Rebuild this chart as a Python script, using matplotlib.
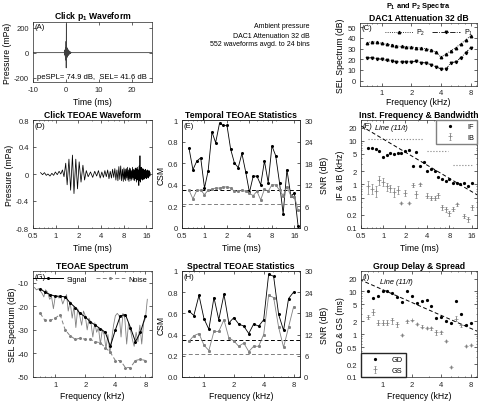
import numpy as np
import matplotlib
matplotlib.use('Agg')
import matplotlib.pyplot as plt
from matplotlib.ticker import NullFormatter

plt.rcParams['font.family'] = ['Liberation Sans', 'DejaVu Sans']
plt.rcParams['mathtext.fontset'] = 'custom'
plt.rcParams['mathtext.rm'] = 'Liberation Sans'
plt.rcParams['mathtext.it'] = 'Liberation Sans:italic'
plt.rcParams['mathtext.bf'] = 'Liberation Sans:bold'
plt.rcParams['axes.unicode_minus'] = False
plt.rcParams['font.size'] = 5.5
plt.rcParams['axes.linewidth'] = 0.5
plt.rcParams['axes.edgecolor'] = '#262626'
for a in ['xtick', 'ytick']:
    plt.rcParams[a + '.direction'] = 'in'
    plt.rcParams[a + '.major.size'] = 2
    plt.rcParams[a + '.minor.size'] = 1
    plt.rcParams[a + '.major.width'] = 0.5
    plt.rcParams[a + '.minor.width'] = 0.4
    plt.rcParams[a + '.color'] = '#262626'
    plt.rcParams[a + '.labelsize'] = 5.5
plt.rcParams['xtick.major.pad'] = 3.2
plt.rcParams['ytick.major.pad'] = 3

GREY = '#808080'

# ---- (A) click waveform ----
click_t = [-10, -0.6, -0.5, -0.45, -0.4, -0.35, -0.3, -0.25, -0.2, -0.15, -0.1, -0.05, 0.0, 0.05, 0.1,
           0.15, 0.2, 0.25, 0.3, 0.35, 0.4, 0.45, 0.5, 0.55, 0.6, 0.65, 0.7, 0.8, 0.9, 1.0, 1.1, 1.2,
           1.3, 1.4, 1.6, 1.8, 26]
click_p = [0, 0, 8, -10, 14, -18, 22, -28, 30, -36, 40, -60, 90, -122, 230, -80, 45, -40, 35, -32,
           30, -28, 26, -24, 22, -20, 18, -16, 14, -12, 10, -8, 6, -4, 2, 0, 0]

# ---- (C) P1 / P2 spectra and common frequency bins ----
freq = [0.71, 0.79, 0.89, 1.0, 1.12, 1.26, 1.41, 1.59, 1.78, 2.0, 2.24, 2.52, 2.83, 3.17, 3.56,
        4.0, 4.49, 5.04, 5.66, 6.35, 7.13, 8.0]
p2_sel = [35.5, 36.5, 36, 35, 34, 33.5, 32.5, 32, 31.5, 31.5, 31, 30.5, 30, 28.8, 26.7, 22, 25,
          28, 31, 34.5, 38, 42]
p1_sel = [21, 21.5, 20.5, 20, 19, 18, 17.5, 17.5, 17.5, 17.5, 18, 17, 16.5, 15, 13, 11, 10.5, 17,
          17.5, 21.5, 26, 31]

# ---- (D) TEOAE waveform (extrema, ms / mPa) ----
teoae_t = [0.63, 0.67, 0.71, 0.75, 0.79, 0.84, 0.89, 0.94, 0.99, 1.05, 1.11, 1.17, 1.23, 1.29,
           1.36, 1.42, 1.5, 1.58, 1.67, 1.75, 1.85, 1.95, 2.05, 2.17, 2.3, 2.42, 2.55,
           2.7, 2.9, 3.1, 3.3, 3.5, 3.7, 3.9, 4.1, 4.3, 4.5, 4.7, 4.9, 5.1, 5.3, 5.5, 5.7, 5.9,
           6.1, 6.3, 6.5, 6.7, 6.9, 7.1, 7.3, 7.5, 7.7, 7.9,
           8.05, 8.2, 8.35, 8.5, 8.65, 8.8, 8.95, 9.1, 9.25, 9.4, 9.55, 9.7, 9.85, 10.0, 10.15,
           10.3, 10.45, 10.6, 10.75, 10.9, 11.05, 11.2, 11.35, 11.5, 11.65, 11.8, 11.95, 12.1,
           12.25, 12.4, 12.55, 12.7, 12.85, 13.0, 13.15, 13.3, 13.45, 13.6, 13.75, 13.9, 14.05,
           14.2, 14.35, 14.5, 14.65, 14.8, 14.95, 15.1, 15.25, 15.4, 15.55, 15.7, 15.85, 16.0,
           16.15, 16.3, 16.45, 16.6, 16.75, 16.9, 17.05, 17.2, 17.35, 17.5, 17.65, 17.8, 17.95]
teoae_p = [0.02, -0.01, 0.02, -0.02, 0.0, -0.03, 0.01, -0.02, 0.03, -0.01, 0.04, 0.0, 0.06, -0.04,
           0.16, -0.16, 0.22, -0.24, 0.28, -0.29, 0.22, -0.22, 0.18, -0.12, 0.13, -0.09, 0.05,
           -0.04, 0.03, -0.05, 0.04, -0.03, 0.05, -0.06, 0.03, -0.05, 0.05, -0.04, 0.06, -0.07,
           0.04, -0.06, 0.07, -0.05, 0.08, -0.09, 0.06, -0.1, 0.11, -0.08, 0.12, -0.1, 0.07, -0.11,
           0.09, -0.08, 0.07, -0.1, 0.08, -0.06, 0.1, -0.09, 0.06, -0.11,
           0.09, -0.07, 0.08, -0.1, 0.05, -0.08, 0.1, -0.06, 0.07, -0.09,
           0.06, -0.1, 0.08, -0.07, 0.09, -0.12, 0.07, -0.09, 0.1, -0.08,
           0.06, -0.17, 0.12, -0.1, 0.27, -0.12, 0.09, -0.08, 0.1, -0.07,
           0.06, -0.09, 0.08, -0.06, 0.07, -0.08, 0.05, -0.07, 0.06, -0.05,
           0.07, -0.06, 0.05, -0.07, 0.04, -0.05, 0.06, -0.04, 0.05, -0.06,
           0.03, -0.04, 0.05, -0.03, 0.04, -0.03, 0.02]

# ---- (E) temporal statistics, (F) inst. frequency & bandwidth ----
time_bins = [0.62, 0.70, 0.79, 0.89, 1.0, 1.12, 1.26, 1.41, 1.59, 1.78, 2.0, 2.24, 2.52, 2.83, 3.17,
             3.56, 4.0, 4.49, 5.04, 5.66, 6.35, 7.13, 8.0, 8.98, 10.1, 11.3, 12.7, 14.3, 16.0, 17.9]
csm_t = [0.74, 0.54, 0.62, 0.65, 0.37, 0.53, 0.89, 0.79, 0.97, 0.95, 0.95, 0.73, 0.60, 0.56, 0.69,
         0.52, 0.33, 0.48, 0.48, 0.40, 0.62, 0.42, 0.76, 0.67, 0.42, 0.13, 0.54, 0.30, 0.32, 0.02]
snr_t = [10.5, 8.1, 10.5, 10.5, 9.3, 10.5, 10.8, 11.1, 11.1, 11.4, 11.4, 11.1, 10.2, 10.2, 10.5,
         10.2, 9.6, 9.0, 10.2, 7.8, 10.8, 10.2, 12.0, 12.0, 10.5, 9.0, 11.4, 9.0, 8.7, 5.1]
csm_crit = 0.35
snr_crit = 6.6

if_t = time_bins[:29]
if_khz = [7.0, 6.9, 6.5, 5.8, 4.2, 4.8, 5.3, 4.9, 5.3, 5.3, 5.8, 6.3, 2.6, 5.4, 2.6, 3.3, 2.0, 2.2,
          2.0, 1.5, 1.35, 1.2, 1.3, 1.05, 1.05, 1.0, 1.05, 0.9, 1.05]
ib_khz = [0.9, 0.8, 0.72, 1.25, 1.15, 0.9, 0.82, 0.66, 0.75, 0.37, 0.64, 0.38, 0.95, 0.6, 1.0,
          np.nan, 0.55, 0.49, 0.49, 0.57, 0.3, 0.27, 0.22, 0.28, 0.35, np.nan, 0.19, 0.16, 0.3]
ib_err = [0.3, 0.2, 0.2, 0.3, 0.25, 0.18, 0.15, 0.15, 0.15, 0.02, 0.1, 0.02, 0.1, 0.12, 0.1,
          0, 0.07, 0.05, 0.05, 0.08, 0.04, 0.04, 0.03, 0.03, 0.03, 0, 0.02, 0.02, 0.04]
win_t0 = [0.63, 4.0, 9.0]
win_t1 = [3.5, 7.7, 16.0]
win_khz = [11.2, 5.8, 2.8]
line_t = [0.5, 20]
line_if = [22, 0.55]

# ---- (G) TEOAE spectrum ----
raw_f = [0.62, 0.65, 0.68, 0.71, 0.74, 0.77, 0.80, 0.84, 0.88, 0.92, 0.96, 1.00, 1.04, 1.09, 1.14,
         1.19, 1.24, 1.30, 1.35, 1.41, 1.48, 1.54, 1.61, 1.68, 1.76, 1.84, 1.92, 2.00, 2.09, 2.18,
         2.28, 2.38, 2.49, 2.60, 2.71, 2.83, 2.96, 3.09, 3.22, 3.37, 3.52, 3.67, 3.84, 4.00, 4.18,
         4.37, 4.56, 4.76, 4.97, 5.19, 5.42, 5.66, 5.91, 6.17, 6.45, 6.73, 7.03, 7.34, 7.67, 8.00,
         8.35]
raw_sel = [-12, -13, -12.5, -13.5, -14.5, -16, -13, -14, -17, -16, -21, -16, -15.5, -16.5, -16,
           -19, -17, -15, -22, -18, -25, -20, -29, -21, -24, -28, -22, -24, -30, -25,
           -27, -33, -27, -31, -29, -36, -30, -32, -38, -32, -40, -34, -28, -24, -23,
           -24, -33, -23, -25, -36, -27, -30, -34, -37, -31, -35, -28, -36, -27, -25,
           -17]
sig_sel = [-12.5, -14, -15, -15.7, -15.7, -16, -18.5, -20.5, -23, -24.5, -26.5, -28, -29.5, -31,
           -37, -30, -24, -23.5, -29, -35, -31, -24]
noise_sel = [-23, -26, -26, -25, -23.5, -30, -32.5, -34, -33.5, -34, -34, -35, -35.5, -37.5, -39.5,
             -43, -43, -46, -46, -43, -42.5, -43]

# ---- (H) spectral statistics ----
csm_f = [0.62, 0.58, 0.77, 0.55, 0.45, 0.75, 0.54, 0.78, 0.51, 0.56, 0.50, 0.48, 0.41, 0.50, 0.48,
         0.54, 0.97, 0.95, 0.59, 0.44, 0.74, 0.80]
snr_f = [10.2, 11.7, 12.3, 9.0, 7.5, 12.9, 12.9, 16.2, 11.1, 10.2, 8.7, 9.6, 7.2, 8.7, 8.7, 12.0,
         23.1, 22.5, 14.1, 8.4, 14.1, 19.8]

# ---- (I) group delay & spread ----
gd_ms = [10.5, 7.0, 8.0, 10.0, 10.5, 9.2, 7.4, 5.6, 10.5, 8.0, 5.4, 5.9, 6.2, 4.5, 2.4, 2.55, 2.0,
         1.85, 5.9, 2.9, 1.6, 1.8]
gs_ms = [2.55, 3.3, 1.85, 1.85, 1.85, 2.1, 1.7, 0.95, 2.0, 2.1, 1.7, 1.5, 1.4, 1.37, 1.13, 1.1,
         0.7, 0.17, 2.3, 1.6, 0.54, 0.57]
gs_err = [0.3, 0.5, 0.25, 0.25, 0.25, 0.35, 0.25, 0.05, 0.15, 0.1, 0.1, 0.1, 0.1, 0.1, 0.15, 0.1,
          0.05, 0.01, 0.3, 0.15, 0.03, 0.03]
line_f = [0.58, 9.3]
line_gd = [19, 1.18]

time_ticks = [0.5, 1, 2, 4, 8, 16]
freq_ticks = [1, 2, 4, 8]
log_ticks = [0.1, 0.2, 0.5, 1, 2, 5, 10, 20]

TITLE = dict(fontsize=6.2, fontweight='bold', pad=2.5)
LAB = 6.2
XPAD = 2.5


def frame(ax):
    ax.tick_params(which='both', top=True, right=True)


def panel_tag(ax, s):
    ax.text(0.015, 0.985, s, transform=ax.transAxes, ha='left', va='top', fontsize=5.5)


def time_axis(ax):
    ax.set_xscale('log')
    ax.set_xlim(0.5, 19)
    ax.set_xticks(time_ticks)
    ax.set_xticklabels(['0.5', '1', '2', '4', '8', '16'])
    ax.xaxis.set_minor_formatter(NullFormatter())
    ax.set_xlabel('Time (ms)', fontsize=LAB, labelpad=XPAD)


def freq_axis(ax):
    ax.set_xscale('log')
    ax.set_xlim(0.6, 9.3)
    ax.set_xticks(freq_ticks)
    ax.set_xticklabels(['1', '2', '4', '8'])
    ax.xaxis.set_minor_formatter(NullFormatter())
    ax.set_xlabel('Frequency (kHz)', fontsize=LAB, labelpad=1.5)


def log_y(ax):
    ax.set_yscale('log')
    ax.set_ylim(0.1, 30)
    ax.set_yticks(log_ticks)
    ax.set_yticklabels(['0.1', '0.2', '0.5', '1', '2', '5', '10', '20'])
    ax.yaxis.set_minor_formatter(NullFormatter())


fig = plt.figure(figsize=(4.8, 4.02), dpi=100)
W, H = 480.0, 402.0


def add(x0, y0, x1, y1):
    return fig.add_axes([x0 / W, 1 - y1 / H, (x1 - x0) / W, (y1 - y0) / H])


axA = add(33, 23, 152, 83)
axC = add(360, 24, 477, 87)
axD = add(33, 121, 152, 229)
axE = add(182, 121, 300, 229)
axF = add(361, 121, 477, 229)
axG = add(33, 272, 152, 378)
axH = add(182, 272, 300, 378)
axI = add(361, 272, 477, 378)

# (A)
axA.plot(click_t, click_p, color='#404040', lw=0.6)
axA.set_xlim(-10, 26)
axA.set_ylim(-235, 245)
axA.set_xticks([-10, 0, 10, 20])
axA.set_yticks([-200, 0, 200])
axA.set_xlabel('Time (ms)', fontsize=LAB, labelpad=XPAD)
axA.set_ylabel('Pressure (mPa)', fontsize=LAB, labelpad=1)
axA.set_title(r'Click $\mathbf{p_1}$ Waveform', **TITLE)
frame(axA)
panel_tag(axA, '(A)')
axA.text(0.03, 0.04, 'peSPL= 74.9 dB,  SEL= 41.6 dB', transform=axA.transAxes, fontsize=5.5,
         ha='left', va='bottom')

# header text
for yy, s in zip([27, 36, 44], ['Ambient pressure', 'DAC1 Attenuation 32 dB',
                                 '552 waveforms avgd. to 24 bins']):
    fig.text(310 / W, 1 - yy / H, s, ha='right', va='center', fontsize=5.0)

# (C)
axC.plot(freq, p2_sel, ls=':', marker='^', ms=1.8, color='k', lw=0.6, label='P$_2$')
axC.plot(freq, p1_sel, ls='-.', marker='v', ms=1.8, color='k', lw=0.6, label='P$_1$')
freq_axis(axC)
axC.set_xlabel('Frequency (kHz)', fontsize=LAB, labelpad=0.5)
axC.tick_params(axis='x', pad=2.5)
axC.set_ylim(-5, 54)
axC.set_yticks([0, 10, 20, 30, 40, 50])
axC.set_ylabel('SEL Spectrum (dB)', fontsize=LAB, labelpad=1.5)
frame(axC)
panel_tag(axC, '(C)')
axC.legend(loc='upper right', ncol=2, frameon=False, fontsize=5.0, handlelength=4,
           borderaxespad=0.2, columnspacing=1.0, handletextpad=0.5)
fig.text(418 / W, 1 - 6 / H, r'$\mathbf{P_1}$ and $\mathbf{P_2}$ Spectra', ha='center',
         va='center', fontsize=5.3, fontweight='bold')
axC.set_title('DAC1 Attenuation 32 dB', **TITLE)

# (D)
axD.plot(teoae_t, teoae_p, color='k', lw=0.55)
time_axis(axD)
axD.set_ylim(-0.8, 0.8)
axD.set_yticks([-0.8, -0.4, 0, 0.4, 0.8])
axD.set_yticklabels(['-0.8', '-0.4', '0', '0.4', '0.8'])
axD.set_ylabel('Pressure (mPa)', fontsize=LAB, labelpad=1)
axD.set_title('Click TEOAE Waveform', **TITLE)
frame(axD)
panel_tag(axD, '(D)')

# (E)
axE2 = axE.twinx()
axE.plot(time_bins, csm_t, color='k', lw=0.6, marker='o', ms=1.2, zorder=3)
axE2.plot(time_bins, snr_t, color=GREY, lw=0.6, marker='s', ms=1.1)
axE.axhline(csm_crit, color='k', lw=0.7, dashes=(4, 2.5))
axE2.axhline(snr_crit, color=GREY, lw=0.7, dashes=(4, 2.5))
time_axis(axE)
axE.set_ylim(0, 1)
axE.set_yticks([0, 0.2, 0.4, 0.6, 0.8, 1])
axE.set_yticklabels(['0', '0.2', '0.4', '0.6', '0.8', '1'])
axE2.set_ylim(0, 30)
axE2.set_yticks([0, 6, 12, 18, 24, 30])
axE.set_ylabel('CSM', fontsize=LAB, labelpad=1)
axE2.set_ylabel('SNR (dB)', fontsize=LAB, labelpad=5)
axE.tick_params(which='both', top=True)
axE2.tick_params(direction='in')
axE.set_title('Temporal TEOAE Statistics', **TITLE)
panel_tag(axE, '(E)')

# (F)
axF.plot(if_t, if_khz, ls='none', marker='o', ms=1.3, color='k', label='IF')
axF.errorbar(if_t, ib_khz, yerr=ib_err, fmt='+', ms=2.5, mew=0.5, color=GREY, ecolor=GREY,
             elinewidth=0.5, capsize=1.0, capthick=0.5, label='IB')
for a0, a1, yv in zip(win_t0, win_t1, win_khz):
    axF.plot([a0, a1], [yv, yv], ls=':', color=GREY, lw=0.8)
axF.plot(line_t, line_if, color='k', lw=0.7, dashes=(4, 2.5))
time_axis(axF)
log_y(axF)
axF.set_ylabel('IF & IB (kHz)', fontsize=LAB, labelpad=1)
frame(axF)
panel_tag(axF, '(F)')
axF.text(0.78, 20, 'Line (11/t)', style='italic', fontsize=5.3, va='center')
axF.legend(loc='upper right', fontsize=5.3, fancybox=False, edgecolor=GREY, framealpha=1,
           borderaxespad=0, handlelength=3, labelspacing=0.5, borderpad=0.4)
axF.set_title('Inst. Frequency & Bandwidth', **TITLE)

# (G)
axG.plot(raw_f, raw_sel, color=GREY, lw=0.6)
axG.plot(freq, sig_sel, color='k', lw=0.7, marker='o', ms=1.2, label='Signal')
axG.plot(freq, noise_sel, color=GREY, lw=0.7, marker='o', ms=1.2, dashes=(4, 2.5), label='Noise')
freq_axis(axG)
axG.set_ylim(-50, -5)
axG.set_yticks([-50, -40, -30, -20, -10])
axG.set_ylabel('SEL Spectrum (dB)', fontsize=LAB, labelpad=1)
frame(axG)
panel_tag(axG, '(G)')
axG.legend(loc='upper right', ncol=2, frameon=False, fontsize=5.3, handlelength=4,
           borderaxespad=0.2, columnspacing=1.2, handletextpad=0.5)
axG.set_title('TEOAE Spectrum', **TITLE)

# (H)
axH2 = axH.twinx()
axH.plot(freq, csm_f, color='k', lw=0.6, marker='o', ms=1.2, zorder=3)
axH2.plot(freq, snr_f, color=GREY, lw=0.6, marker='s', ms=1.1)
axH.axhline(csm_crit, color='k', lw=0.7, dashes=(4, 2.5))
axH2.axhline(snr_crit, color=GREY, lw=0.7, dashes=(4, 2.5))
freq_axis(axH)
axH.set_ylim(0, 1)
axH.set_yticks([0, 0.2, 0.4, 0.6, 0.8, 1])
axH.set_yticklabels(['0.0', '0.2', '0.4', '0.6', '0.8', '1'])
axH2.set_ylim(0, 30)
axH2.set_yticks([0, 6, 12, 18, 24, 30])
axH.set_ylabel('CSM', fontsize=LAB, labelpad=1)
axH2.set_ylabel('SNR (dB)', fontsize=LAB, labelpad=5)
axH.tick_params(which='both', top=True)
axH2.tick_params(direction='in')
axH.set_title('Spectral TEOAE Statistics', **TITLE)
panel_tag(axH, '(H)')

# (I)
axI.plot(freq, gd_ms, ls='none', marker='o', ms=1.3, color='k', label='GD')
axI.errorbar(freq, gs_ms, yerr=gs_err, fmt='+', ms=2.5, mew=0.5, color=GREY, ecolor=GREY,
             elinewidth=0.5, capsize=1.0, capthick=0.5, label='GS')
axI.plot(line_f, line_gd, color='k', lw=0.7, dashes=(4, 2.5))
freq_axis(axI)
log_y(axI)
axI.set_ylabel('GD & GS (ms)', fontsize=LAB, labelpad=1)
frame(axI)
panel_tag(axI, '(I)')
axI.text(0.93, 17, 'Line (11/f)', style='italic', fontsize=5.3, va='center')
axI.legend(loc='lower left', fontsize=5.3, fancybox=False, edgecolor='#262626', framealpha=1,
           borderaxespad=0, handlelength=3, labelspacing=0.5, borderpad=0.4)
axI.set_title('Group Delay & Spread', **TITLE)

fig.savefig('out.png', dpi=100)
